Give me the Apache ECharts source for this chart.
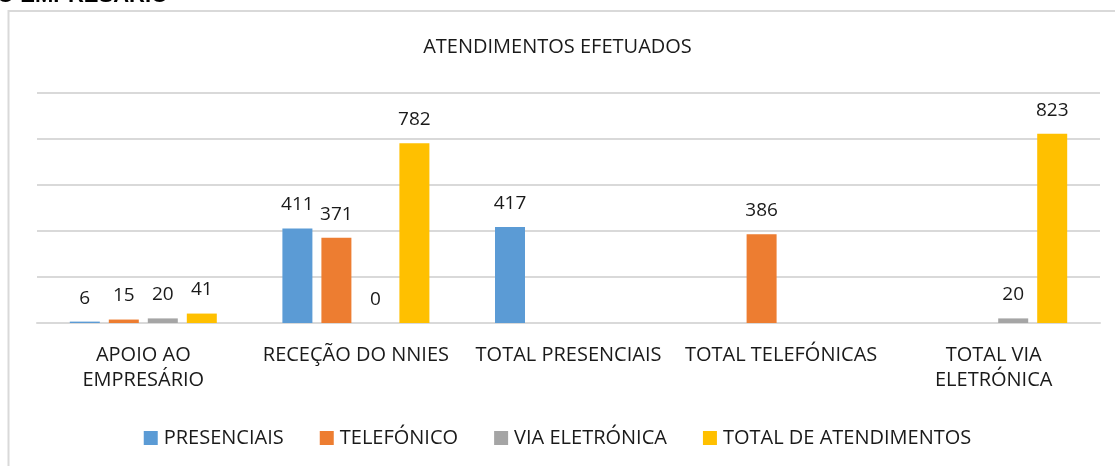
<!DOCTYPE html>
<html>
<head>
<meta charset="utf-8">
<script src="https://cdn.jsdelivr.net/npm/echarts@6/dist/echarts.min.js"></script>
<style>
  html, body { margin: 0; padding: 0; background: #fff; }
  #chart { width: 1115px; height: 466px; }
</style>
</head>
<body>
<div id="chart"></div>
<script>
const categories = ['APOIO AO\nEMPRESÁRIO', 'RECEÇÃO DO NNIES', 'TOTAL PRESENCIAIS', 'TOTAL TELEFÓNICAS', 'TOTAL VIA\nELETRÓNICA'];
const presenciais = [6, 411, 417, '-', '-'];
const telefonico = [15, 371, '-', 386, '-'];
const viaEletronica = [20, 0, '-', '-', 20];
const totalAtendimentos = [41, 782, '-', '-', 823];

const FONT = 'Open Sans';
const TXT = '#1a1a1a';

function bar(name, data, color) {
    return {
        name: name,
        type: 'bar',
        data: data,
        barWidth: 30,
        barGap: '30%',
        itemStyle: { color: color },
        label: {
            show: true,
            position: 'top',
            distance: 14,
            color: TXT,
            fontFamily: FONT,
            fontSize: 19
        }
    };
}

var chart = echarts.init(document.getElementById('chart'));
chart.setOption({
    animation: false,
    title: {
        text: 'ATENDIMENTOS EFETUADOS',
        left: 'center',
        top: 32,
        textStyle: { fontFamily: FONT, fontSize: 20, fontWeight: 'normal', color: TXT }
    },
    legend: {
        bottom: 13,
        left: 'center',
        itemWidth: 14,
        itemHeight: 14,
        itemGap: 36,
        icon: 'rect',
        textStyle: { fontFamily: FONT, fontSize: 20, color: TXT, padding: [0, 0, 0, 1] },
        data: ['PRESENCIAIS', 'TELEFÓNICO', 'VIA ELETRÓNICA', 'TOTAL DE ATENDIMENTOS']
    },
    grid: { left: 37, right: 15, top: 93, bottom: 143 },
    xAxis: {
        type: 'category',
        data: categories,
        axisTick: { show: false },
        axisLine: { lineStyle: { color: '#d9d9d9', width: 2 } },
        axisLabel: {
            margin: 20,
            interval: 0,
            fontFamily: FONT,
            fontSize: 20,
            lineHeight: 25,
            color: TXT
        }
    },
    yAxis: {
        type: 'value',
        min: 0,
        max: 1000,
        interval: 200,
        axisLabel: { show: false },
        axisLine: { show: false },
        axisTick: { show: false },
        splitLine: { lineStyle: { color: '#d9d9d9', width: 2 } }
    },
    series: [
        bar('PRESENCIAIS', presenciais, '#5B9BD5'),
        bar('TELEFÓNICO', telefonico, '#ED7D31'),
        bar('VIA ELETRÓNICA', viaEletronica, '#A5A5A5'),
        bar('TOTAL DE ATENDIMENTOS', totalAtendimentos, '#FFC000')
    ],
    graphic: [
        {
            type: 'rect',
            shape: { x: 8.5, y: 11, width: 1200, height: 600 },
            style: { fill: null, stroke: '#d9d9d9', lineWidth: 2 },
            silent: true
        },
        {
            type: 'text',
            left: -3,
            top: -15,
            style: { text: 'O EMPRESÁRIO', font: 'bold 22px "Liberation Sans"', fill: '#000' },
            silent: true
        }
    ]
});
</script>
</body>
</html>
